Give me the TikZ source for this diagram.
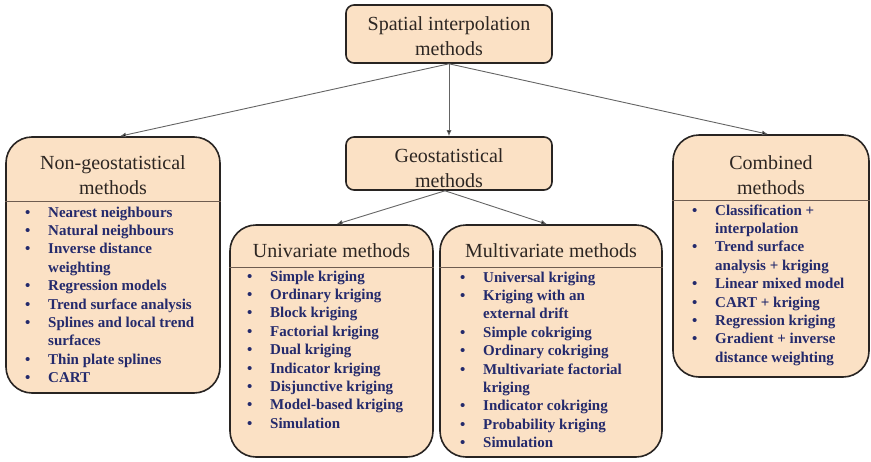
\documentclass[tikz,border=0pt]{standalone}
\usepackage{fontspec}
\setmainfont{Liberation Serif}
\usepackage{xcolor}
\usetikzlibrary{arrows.meta}

\definecolor{boxfill}{RGB}{251,225,197}
\definecolor{boxline}{RGB}{40,36,34}
\definecolor{itemblue}{RGB}{36,42,108}
\definecolor{titlegray}{RGB}{45,38,34}
\definecolor{edgegray}{RGB}{100,100,100}
\definecolor{sepbrown}{RGB}{110,92,80}

\newcommand{\methodlist}[1]{{\fontsize{15}{18.4}\selectfont\bfseries\color{itemblue}%
  \begin{tabular}{@{}p{23pt}@{}l@{}}#1\end{tabular}}}

\begin{document}
\begin{tikzpicture}[
  x=1pt,y=-1pt,
  headbox/.style={draw=boxline,line width=1.6pt,fill=boxfill,rounded corners=8pt,inner sep=0},
  catbox/.style={draw=boxline,line width=1.6pt,fill=boxfill,rounded corners=26pt,inner sep=0},
  title/.style={align=center,inner sep=0,text=titlegray,font=\fontsize{20}{25.5}\selectfont},
  list/.style={anchor=north west,inner sep=0},
  sepline/.style={draw=sepbrown,line width=0.8pt},
  edge/.style={draw=edgegray,line width=0.9pt,-{Latex[length=6pt,width=5pt,fill=black]}}
  ]
  \useasboundingbox (0,0) rectangle (871,461);

  % top level
  \node[headbox,minimum width=206,minimum height=58] (top) at (449,34) {};
  \node[title] (top-t) at (449,36) {Spatial interpolation\\methods};

  % categories
  \node[catbox,minimum width=214,minimum height=256] (nongeo) at (113,265) {};
  \node[headbox,minimum width=206,minimum height=53] (geo) at (449,163.5) {};
  \node[catbox,minimum width=196,minimum height=242] (comb) at (771,256) {};

  \node[title] (nongeo-t) at (113,175) {Non-geostatistical\\methods};
  \node[title] (geo-t) at (449,168) {Geostatistical\\methods};
  \node[title] (comb-t) at (771,175) {Combined\\methods};

  % geostatistical subgroups
  \node[catbox,minimum width=203,minimum height=232] (uni) at (331.5,341) {};
  \node[catbox,minimum width=222,minimum height=232] (multi) at (551,341) {};

  \node[title] (uni-t) at (331.5,251) {Univariate methods};
  \node[title] (multi-t) at (551,251) {Multivariate methods};

  \draw[sepline] (nongeo.west |- 0,201) -- (nongeo.east |- 0,201);
  \draw[sepline] (uni.west |- 0,267) -- (uni.east |- 0,267);
  \draw[sepline] (multi.west |- 0,267) -- (multi.east |- 0,267);
  \draw[sepline] (comb.west |- 0,200) -- (comb.east |- 0,200);

  \node[list] (nongeo-l) at (25,204) {\methodlist{
    \textbullet & Nearest neighbours\\
    \textbullet & Natural neighbours\\
    \textbullet & Inverse distance\\
                & weighting\\
    \textbullet & Regression models\\
    \textbullet & Trend surface analysis\\
    \textbullet & Splines and local trend\\
                & surfaces\\
    \textbullet & Thin plate splines\\
    \textbullet & CART}};

  \node[list] (uni-l) at (247,268) {\methodlist{
    \textbullet & Simple kriging\\
    \textbullet & Ordinary kriging\\
    \textbullet & Block kriging\\
    \textbullet & Factorial kriging\\
    \textbullet & Dual kriging\\
    \textbullet & Indicator kriging\\
    \textbullet & Disjunctive kriging\\
    \textbullet & Model-based kriging\\
    \textbullet & Simulation}};

  \node[list] (multi-l) at (460,269) {\methodlist{
    \textbullet & Universal kriging\\
    \textbullet & Kriging with an\\
                & external drift\\
    \textbullet & Simple cokriging\\
    \textbullet & Ordinary cokriging\\
    \textbullet & Multivariate factorial\\
                & kriging\\
    \textbullet & Indicator cokriging\\
    \textbullet & Probability kriging\\
    \textbullet & Simulation}};

  \node[list] (comb-l) at (692,202) {\methodlist{
    \textbullet & Classification +\\
                & interpolation\\
    \textbullet & Trend surface\\
                & analysis + kriging\\
    \textbullet & Linear mixed model\\
    \textbullet & CART + kriging\\
    \textbullet & Regression kriging\\
    \textbullet & Gradient + inverse\\
                & distance weighting}};

  \draw[edge] (top.south) -- ([xshift=7pt]nongeo.north);
  \draw[edge] (top.south) -- (geo.north);
  \draw[edge] (top.south) -- ([xshift=-3pt]comb.north);
  \draw[edge] ([xshift=-4pt]geo.south) -- ([xshift=5pt]uni.north);
  \draw[edge] ([xshift=-4pt]geo.south) -- ([xshift=-4pt]multi.north);
\end{tikzpicture}
\end{document}
